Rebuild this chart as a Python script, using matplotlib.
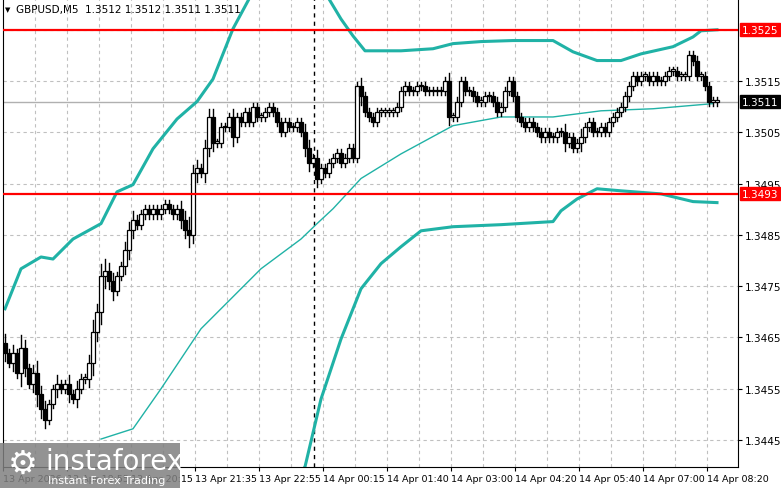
import matplotlib
matplotlib.use("Agg")
import matplotlib.pyplot as plt
from matplotlib.patches import Rectangle

closes = [1.3462,1.3460,1.3462,1.3458,1.3463,1.3459,1.3456,1.3458,1.3454,1.3451,
          1.3449,1.3452,1.3455,1.3456,1.3455,1.3456,1.3454,1.3453,1.3455,1.3457,
          1.3457,1.3460,1.3466,1.3470,1.3477,1.3478,1.3476,1.3474,1.3477,1.3479,
          1.3482,1.3486,1.3488,1.3487,1.3489,1.3490,1.3489,1.3490,1.3489,1.3490,
          1.3491,1.3490,1.3489,1.3490,1.3488,1.3486,1.3485,1.3497,1.3498,1.3497,
          1.3502,1.3508,1.3503,1.3503,1.3506,1.3506,1.3508,1.3504,1.3508,1.3507,
          1.3509,1.3507,1.3510,1.3508,1.3508,1.3509,1.3510,1.3509,1.3507,1.3505,
          1.3507,1.3506,1.3506,1.3507,1.3505,1.3502,1.3499,1.3500,1.3496,1.3498,
          1.3497,1.3499,1.3500,1.3501,1.3499,1.3500,1.3502,1.3500,1.3514,1.3512,
          1.3509,1.3508,1.3507,1.3509,1.3509,1.3509,1.3509,1.3509,1.3510,1.3513,
          1.3514,1.3513,1.3513,1.3514,1.3514,1.3513,1.3513,1.3513,1.3513,1.3513,
          1.3515,1.3508,1.3508,1.3511,1.3515,1.3513,1.3513,1.3512,1.3511,1.3511,
          1.3512,1.3512,1.3511,1.3509,1.3510,1.3513,1.3515,1.3512,1.3508,1.3507,
          1.3506,1.3507,1.3506,1.3505,1.3504,1.3505,1.3504,1.3504,1.3505,1.3505,
          1.3503,1.3504,1.3502,1.3503,1.3504,1.3506,1.3507,1.3505,1.3505,1.3506,
          1.3505,1.3507,1.3508,1.3509,1.3510,1.3512,1.3514,1.3516,1.3515,1.3516,
          1.3516,1.3515,1.3516,1.3515,1.3515,1.3516,1.3517,1.3517,1.3516,1.3516,
          1.3516,1.3520,1.3519,1.3516,1.3516,1.3514,1.3511,1.3511,1.3511]
open0 = 1.3464
wicks = [2,1,2,1,3,2,1,2,3,2, 2,1,1,2,1,1,2,1,2,1, 1,2,3,2,3,3,2,2,1,1,
         2,2,2,1,1,1,1,1,1,1, 1,1,1,1,2,2,3,2,2,1, 2,2,2,1,1,1,1,2,1,1,
         1,1,1,1,1,1,1,1,1,1, 1,1,1,1,1,2,2,1,2,1, 1,1,1,1,1,1,1,1,1,2,
         1,1,1,1,1,1,1,1,1,1, 1,1,1,1,1,1,1,1,1,1, 1,2,1,1,1,1,1,1,1,1,
         1,1,1,1,1,1,1,1,1,1, 1,1,1,1,1,1,1,1,1,1, 2,1,1,1,2,1,1,1,1,1,
         1,1,1,1,1,1,1,1,1,1, 1,1,1,1,1,1,1,1,1,1, 1,1,1,1,1,1,1,1,1]

ma_idx = [24, 32, 39, 49, 64, 74, 78, 82, 89, 99, 112, 124, 137, 149, 162, 177]
ma_val = [1.34452, 1.34472, 1.34550, 1.34667, 1.34784, 1.34842, 1.34872, 1.34901,
          1.34960, 1.35008, 1.35063, 1.35080, 1.35080, 1.35092, 1.35096, 1.35106]
up_idx = [0, 4, 9, 12, 17, 24, 28, 32, 37, 43, 48, 52, 57, 61, 65, 70, 75, 81,
          84, 87, 90, 99, 107, 112, 119, 127, 137, 142, 148, 154, 159, 167, 172, 174, 178]
up_val = [1.34706, 1.34784, 1.34807, 1.34803, 1.34842, 1.34872, 1.34934, 1.34948,
          1.35018, 1.35076, 1.35110, 1.35154, 1.35252, 1.35310, 1.3536, 1.3538, 1.3536, 1.35310,
          1.35271, 1.35238, 1.35209, 1.35209, 1.35213, 1.35223, 1.35227, 1.35229, 1.35229,
          1.35207, 1.35190, 1.35190, 1.35203, 1.35217, 1.35236, 1.35248, 1.35250]
lo_idx = [60, 75, 79, 84, 89, 94, 99, 104, 108, 112, 124, 137, 139, 143, 148, 154, 164, 172, 178]
lo_val = [1.3425, 1.34398, 1.34530, 1.34647, 1.34745, 1.34794, 1.34827, 1.34858,
          1.34862, 1.34866, 1.34870, 1.34876, 1.34897, 1.34920, 1.34940, 1.34936,
          1.34930, 1.34915, 1.34913]

xlabels = ["13 Apr 2026", "13 Apr 18:55", "13 Apr 20:15", "13 Apr 21:35", "13 Apr 22:55",
           "14 Apr 00:15", "14 Apr 01:40", "14 Apr 03:00", "14 Apr 04:20", "14 Apr 05:40",
           "14 Apr 07:00", "14 Apr 08:20"]
yticks = [1.3445, 1.3455, 1.3465, 1.3475, 1.3485, 1.3495, 1.3505, 1.3515]
res_hi, res_lo, cur = 1.3525, 1.3493, 1.3511

W, H = 781, 489
fig = plt.figure(figsize=(W/100, H/100), dpi=100)
ax = fig.add_axes([3/W, 1-468/H, 735/W, 468/H])
ax.set_xlim(-0.5, 183.25)
ax.set_ylim(1.343975, 1.35310)

teal = "#20b2a6"
for y in yticks + [1.3525]:
    ax.axhline(y, color="#c0c0c0", ls=(0, (3, 3)), lw=0.8, zorder=0)
for k in range(1, 23):
    ax.axvline(8*k - 0.5, color="#c0c0c0", ls=(0, (3, 3)), lw=0.8, zorder=0)

prev = open0
for i, c in enumerate(closes):
    o = prev
    top, bot = max(o, c), min(o, c)
    w = wicks[i] * 0.0001
    ax.plot([i, i], [bot - w*0.8, top + w*0.8], color="black", lw=1, zorder=3)
    h = max(top - bot, 0.00003)
    ax.add_patch(Rectangle((i - 0.4, bot), 0.8, h, facecolor="black" if c < o else "white",
                           edgecolor="black", lw=0.9, zorder=4))
    prev = c

ax.plot(ma_idx, ma_val, color=teal, lw=1, zorder=2)
ax.plot(up_idx, up_val, color=teal, lw=2.2, zorder=2)
ax.plot(lo_idx, lo_val, color=teal, lw=2.2, zorder=2)

ax.axhline(res_hi, color="red", lw=1.6, zorder=5)
ax.axhline(res_lo, color="red", lw=1.6, zorder=5)
ax.axhline(cur, color="#b0b0b0", lw=1, zorder=1)
ax.axvline(77.3, color="black", ls=(0, (3, 3)), lw=1, zorder=1)

ax.yaxis.tick_right()
ax.set_yticks(yticks)
ax.set_yticklabels([f"{v:.4f}" for v in yticks], fontsize=7.5)
ax.set_xticks([8*2*k - 0.5 for k in range(12)])
ax.set_xticklabels(xlabels, fontsize=6.8, ha="left")
ax.tick_params(axis="both", length=3, pad=2)
ax.spines["top"].set_visible(False)

for val, col, fc in [(res_hi, "red", "white"), (res_lo, "red", "white"), (cur, "black", "white")]:
    ax.text(1.005, val, f"{val:.4f}", transform=ax.get_yaxis_transform(), fontsize=7.5,
            va="center", ha="left", color=fc,
            bbox=dict(boxstyle="square,pad=0.15", fc=col, ec=col), zorder=10)

fig.text(16/W, 1-10/H, "GBPUSD,M5  1.3512 1.3512 1.3511 1.3511", fontsize=7.5, va="center")
fig.text(5/W, 1-10/H, "▼", fontsize=5, va="center")

fig.patches.append(Rectangle((0, 0), 180/W, 45/H, transform=fig.transFigure,
                             facecolor="#808080", alpha=0.85, zorder=20))
fig.text(45/W, 27/H, "instaforex", fontsize=20, color="white", va="center", zorder=21)
fig.text(48/W, 8/H, "Instant Forex Trading", fontsize=8, color="white", va="center", zorder=21)
fig.text(8/W, 25/H, "⚙", fontsize=24, color="white", va="center", zorder=21)

fig.savefig("out.png", dpi=100)
